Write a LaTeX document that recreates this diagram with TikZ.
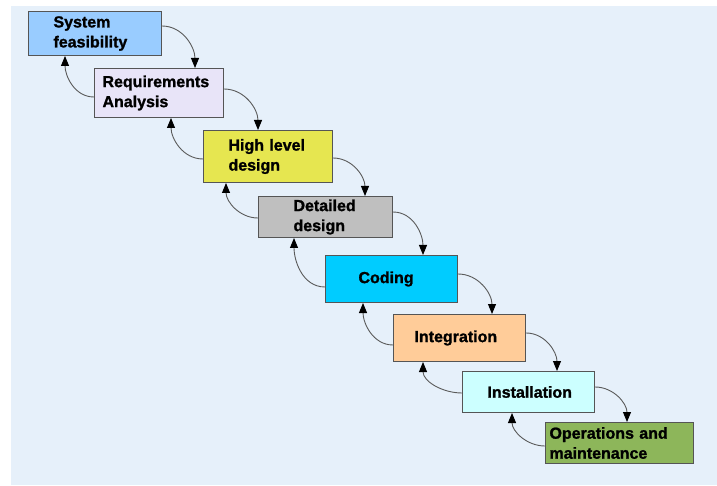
\documentclass[tikz,border=0pt]{standalone}
\usepackage{fontspec}
\setmainfont{Liberation Sans}
\newfontfamily\heavyfont{Liberation Sans}[BoldFeatures={FakeBold=1.3}]
\usetikzlibrary{arrows.meta}
\definecolor{bgc}{HTML}{E6F0FA}
\definecolor{c1}{HTML}{99CCFF}
\definecolor{c2}{HTML}{E8E4F8}
\definecolor{c3}{HTML}{E6E650}
\definecolor{c4}{HTML}{BFBFBF}
\definecolor{c5}{HTML}{00CCFF}
\definecolor{c6}{HTML}{FFCC99}
\definecolor{c7}{HTML}{CCFFFF}
\definecolor{c8}{HTML}{8DB65A}
\definecolor{edgec}{HTML}{555555}
\definecolor{linec}{HTML}{5A5A5A}
\tikzset{
  phase/.style={draw=edgec, line width=1pt, rectangle, anchor=north west,
    inner xsep=0pt, inner ysep=0pt, align=left, text=black,
    font=\heavyfont\fontsize{16}{20}\selectfont\bfseries},
  fwd/.style={draw=linec, line width=0.9pt, out=0, in=90,
    -{Triangle[length=10pt,width=8pt,color=black]}},
  bwd/.style={draw=linec, line width=0.9pt, out=180, in=-90,
    -{Triangle[length=10pt,width=8pt,color=black]}}
}
\begin{document}
\begin{tikzpicture}[x=1pt,y=1pt]
\useasboundingbox (0,0) rectangle (717,-486);
\fill[bgc] (11,-6) rectangle (717,-485);
% boxes: min width W, min height H, text width W-2L
\node[phase, fill=c1, minimum width=133pt, minimum height=44pt, text width=83pt] (n1) at (28,-11) {System\\feasibility};
\node[phase, fill=c2, minimum width=129pt, minimum height=49pt, text width=113pt] (n2) at (94,-68) {Requirements\\Analysis};
\node[phase, fill=c3, minimum width=129pt, minimum height=52pt, text width=79pt] (n3) at (203,-130) {High level\\design};
\node[phase, fill=c4, minimum width=134pt, minimum height=41pt, text width=64pt] (n4) at (258,-196) {Detailed\\design};
\node[phase, fill=c5, minimum width=132pt, minimum height=47pt, text width=66pt] (n5) at (325,-255) {Coding};
\node[phase, fill=c6, minimum width=132pt, minimum height=47pt, text width=90pt] (n6) at (393,-314) {Integration};
\node[phase, fill=c7, minimum width=132pt, minimum height=41pt, text width=82pt] (n7) at (462,-371) {Installation};
\node[phase, fill=c8, minimum width=148pt, minimum height=41pt, text width=140pt] (n8) at (545,-422) {Operations and\\maintenance};
% forward arrows
\draw[fwd] ([yshift=-15pt]n1.north east) to ([xshift=101pt]n2.north west);
\draw[fwd] ([yshift=-21pt]n2.north east) to ([xshift=55pt]n3.north west);
\draw[fwd] ([yshift=-28pt]n3.north east) to ([xshift=107pt]n4.north west);
\draw[fwd] ([yshift=-16pt]n4.north east) to ([xshift=98pt]n5.north west);
\draw[fwd] ([yshift=-19pt]n5.north east) to ([xshift=99pt]n6.north west);
\draw[fwd] ([yshift=-19pt]n6.north east) to ([xshift=95pt]n7.north west);
\draw[fwd] ([yshift=-16pt]n7.north east) to ([xshift=82pt]n8.north west);
% backward arrows
\draw[bwd] ([yshift=-29pt]n2.north west) to ([xshift=37pt]n1.south west);
\draw[bwd] ([yshift=-29pt]n3.north west) to ([xshift=77pt]n2.south west);
\draw[bwd] ([yshift=-22pt]n4.north west) to ([xshift=23pt]n3.south west);
\draw[bwd] ([yshift=-32pt]n5.north west) to ([xshift=36pt]n4.south west);
\draw[bwd] ([yshift=-31pt]n6.north west) to ([xshift=38pt]n5.south west);
\draw[bwd] ([yshift=-22pt]n7.north west) to ([xshift=30pt]n6.south west);
\draw[bwd] ([yshift=-24pt]n8.north west) to ([xshift=50pt]n7.south west);
\end{tikzpicture}
\end{document}
